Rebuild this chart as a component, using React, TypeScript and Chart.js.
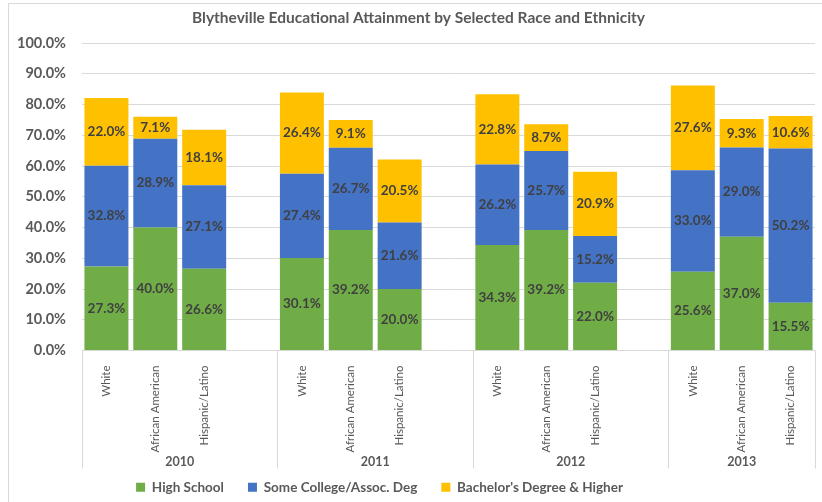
import React, { useEffect, useRef } from "react";
import { Chart, registerables } from "chart.js";

Chart.register(...registerables);

const years = ["2010", "2011", "2012", "2013"];
const races = ["White", "African American", "Hispanic/Latino"];
const yTickValues = [0, 10, 20, 30, 40, 50, 60, 70, 80, 90, 100];

// values per year group: White, African American, Hispanic/Latino
const highSchool = [27.3, 40.0, 26.6, 30.1, 39.2, 20.0, 34.3, 39.2, 22.0, 25.6, 37.0, 15.5];
const someCollege = [32.8, 28.9, 27.1, 27.4, 26.7, 21.6, 26.2, 25.7, 15.2, 33.0, 29.0, 50.2];
const bachelor = [22.0, 7.1, 18.1, 26.4, 9.1, 20.5, 22.8, 8.7, 20.9, 27.6, 9.3, 10.6];

const seriesNames = ["High School", "Some College/Assoc. Deg", "Bachelor's Degree & Higher"];
const seriesColors = ["#70AD47", "#4472C4", "#FFC000"];

const FONT = "Lato";
const TEXT = "#595959";
const GRID = "#d9d9d9";

// Build slotted categories: 3 races per year, then an empty gap slot (not after last year)
const labels: string[] = [];
const slotIndex: number[] = [];
years.forEach((_, yi) => {
  races.forEach((r) => {
    labels.push(r);
    slotIndex.push(yi * 3 + races.indexOf(r));
  });
  if (yi < years.length - 1) {
    labels.push("");
    slotIndex.push(-1);
  }
});
const toSlots = (arr: number[]) => slotIndex.map((i) => (i < 0 ? null : arr[i]));

const dataLabelPlugin = {
  id: "dataLabels",
  afterDatasetsDraw(chart: any) {
    const ctx = chart.ctx;
    ctx.save();
    ctx.font = `bold 13.5px ${FONT}`;
    ctx.fillStyle = "#404040";
    ctx.textAlign = "center";
    ctx.textBaseline = "middle";
    chart.data.datasets.forEach((ds: any, di: number) => {
      const meta = chart.getDatasetMeta(di);
      meta.data.forEach((el: any, i: number) => {
        const v = ds.data[i];
        if (v === null || v === undefined) return;
        ctx.fillText(v.toFixed(1) + "%", el.x, (el.y + el.base) / 2);
      });
    });
    ctx.restore();
  },
};

const boxShiftPlugin = {
  id: "boxShift",
  afterLayout(chart: any) {
    if (chart.legend) {
      chart.legend.left -= 28;
      chart.legend.right -= 28;
      chart.legend.top += 2;
      chart.legend.bottom += 2;
    }
    if (chart.titleBlock) {
      chart.titleBlock.left += 11;
      chart.titleBlock.right += 11;
    }
  },
};

const groupAxisPlugin = {
  id: "groupAxis",
  afterDraw(chart: any) {
    const ctx = chart.ctx;
    const area = chart.chartArea;
    const n = labels.length;
    const slot = (area.right - area.left) / n;
    const bounds = [0, 4, 8, 12, 15];
    ctx.save();
    ctx.strokeStyle = GRID;
    ctx.lineWidth = 1;
    bounds.forEach((b) => {
      const x = Math.round(area.left + b * slot) + 0.5;
      ctx.beginPath();
      ctx.moveTo(x, area.bottom);
      ctx.lineTo(x, area.bottom + 118);
      ctx.stroke();
    });
    ctx.font = `bold 12.5px ${FONT}`;
    ctx.fillStyle = TEXT;
    ctx.textAlign = "center";
    ctx.textBaseline = "middle";
    years.forEach((y, i) => {
      const x0 = area.left + bounds[i] * slot;
      const x1 = area.left + bounds[i + 1] * slot;
      ctx.fillText(y, (x0 + x1) / 2, area.bottom + 111);
    });
    // outer frame (left and top edges)
    ctx.beginPath();
    ctx.moveTo(8.5, chart.height);
    ctx.lineTo(8.5, 3.5);
    ctx.lineTo(chart.width, 3.5);
    ctx.stroke();
    ctx.restore();
  },
};

export default function App() {
  const ref = useRef<HTMLCanvasElement | null>(null);
  useEffect(() => {
    if (!ref.current) return;
    const chart = new Chart(ref.current, {
      type: "bar",
      data: {
        labels,
        datasets: [highSchool, someCollege, bachelor].map((arr, i) => ({
          label: seriesNames[i],
          data: toSlots(arr),
          backgroundColor: seriesColors[i],
          borderWidth: 0,
          categoryPercentage: 0.9,
          barPercentage: 1.0,
        })),
      },
      options: {
        animation: false,
        responsive: true,
        maintainAspectRatio: false,
        devicePixelRatio: 1,
        layout: { padding: { left: 0, right: 7, top: 0, bottom: 0 } },
        plugins: {
          title: {
            display: true,
            text: "Blytheville Educational Attainment by Selected Race and Ethnicity",
            color: TEXT,
            font: { family: FONT, size: 15.5, weight: "bold" },
            padding: { top: 9, bottom: 15.4 },
          },
          legend: {
            position: "bottom",
            labels: {
              boxWidth: 9,
              boxHeight: 9,
              padding: 24,
              color: TEXT,
              font: { family: FONT, size: 13.5, weight: "bold" },
            },
          },
          tooltip: { enabled: false },
        },
        scales: {
          x: {
            stacked: true,
            grid: { display: false },
            border: { display: false },
            ticks: {
              autoSkip: false,
              minRotation: 90,
              maxRotation: 90,
              padding: 7,
              color: TEXT,
              font: { family: FONT, size: 11.5 },
            },
            afterFit: (s: any) => {
              s.height = 104;
            },
          },
          y: {
            stacked: true,
            min: 0,
            max: 100,
            afterBuildTicks: (s: any) => {
              s.ticks = yTickValues.map((v) => ({ value: v }));
            },
            grid: { color: GRID, drawTicks: false },
            border: { display: false },
            ticks: {
              padding: 16,
              color: TEXT,
              font: { family: FONT, size: 14.5, weight: "bold" },
              callback: (v: any) => Number(v).toFixed(1) + "%",
            },
            afterFit: (s: any) => {
              s.width = 82;
            },
          },
        },
      },
      plugins: [dataLabelPlugin, groupAxisPlugin, boxShiftPlugin],
    });
    return () => chart.destroy();
  }, []);
  return (
    <div style={{ position: "absolute", left: 0, top: 0, width: 822, height: 502, background: "#fff" }}>
      <canvas ref={ref} />
    </div>
  );
}
